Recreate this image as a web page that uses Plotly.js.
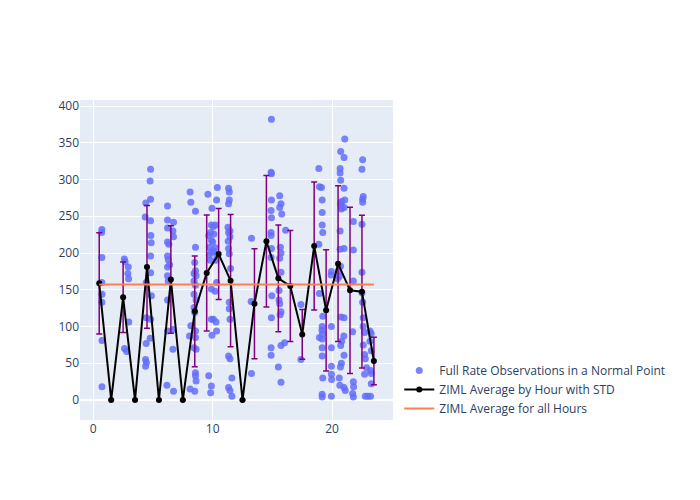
<!DOCTYPE html>
<html>
<head>
<meta charset="utf-8">
<script src="https://cdn.plot.ly/plotly-3.0.1.min.js"></script>
<style>html,body{margin:0;padding:0;background:#fff;}#chart{width:700px;height:500px;}</style>
</head>
<body>
<div id="chart"></div>
<script>
// Individual observations (hour of day, value)
const obsX = [
  0.72,0.70,0.72,0.72,0.73,0.72,0.73,0.73,
  2.60,2.67,2.93,2.90,2.96,2.97,2.62,2.80,
  4.80,4.76,4.80,4.40,4.35,4.80,4.82,4.85,4.80,4.80,4.43,4.87,4.45,4.80,4.76,4.43,4.38,4.45,4.38,
  6.22,6.22,6.72,6.22,6.67,6.72,6.22,6.33,6.22,6.28,6.39,6.22,6.22,6.28,6.22,6.67,6.22,6.67,6.17,6.72,
  8.11,8.17,8.56,8.56,8.50,8.56,8.44,8.61,8.44,8.56,8.44,8.61,8.44,8.50,8.17,8.56,8.06,8.56,8.44,8.61,8.56,8.56,8.61,8.11,8.50,
  9.60,9.94,9.89,9.83,9.67,9.90,9.72,9.89,9.72,9.80,9.89,9.89,9.94,9.67,9.89,9.83,
  10.39,10.33,10.22,10.06,10.10,10.00,10.20,10.05,10.33,10.28,10.33,10.20,10.06,10.28,10.33,
  11.33,11.39,11.39,11.33,11.28,11.45,11.33,11.45,11.30,11.33,11.39,11.50,11.39,11.39,11.45,11.33,11.45,11.61,11.33,11.45,11.61,
  13.25,13.22,13.25,
  14.92,14.89,14.92,14.92,14.89,14.92,14.89,14.89,14.92,14.89,14.95,14.92,14.89,14.89,
  15.61,15.72,15.61,15.78,15.67,15.72,15.61,15.72,15.56,15.56,15.61,15.72,15.65,15.72,15.50,15.72,
  16.11,16.02,
  17.39,17.39,
  18.89,18.94,18.89,18.94,18.94,
  19.11,19.17,19.17,19.17,19.22,19.22,19.17,19.15,19.20,19.17,19.17,19.17,19.22,19.17,19.17,19.94,19.92,19.94,19.94,19.94,19.94,19.96,19.94,
  20.72,20.67,20.67,20.72,20.80,20.72,20.75,20.83,20.78,20.67,20.67,20.70,20.55,20.60,20.45,20.75,20.80,20.72,20.78,20.70,20.60,20.65,
  21.06,21.00,21.00,21.06,21.00,21.00,21.00,20.98,21.00,21.00,21.10,21.78,21.78,21.78,21.72,21.78,21.80,21.72,21.78,
  22.56,22.50,22.61,22.56,22.56,22.50,22.50,22.50,22.56,22.61,22.60,22.72,22.61,22.72,22.78,22.89,22.72,22.78,22.99,
  23.17,23.28,23.17,23.28,23.22,23.28,23.28,23.22
];
const obsY = [
  232,228,194,160,144,133,81,18,
  192,188,181,172,165,106,70,66,
  314,298,273,268,249,244,224,214,196,173,160,142,112,110,84,77,55,51,46,
  264,245,242,234,230,222,215,212,196,191,184,181,169,162,136,96,94,69,20,12,
  283,269,257,208,187,176,172,169,162,156,144,136,126,119,101,94,87,85,71,69,37,33,26,15,12,
  280,261,238,228,224,217,208,201,197,190,151,110,88,33,19,10,
  289,272,238,236,226,215,207,203,198,190,160,148,110,106,94,
  288,283,272,267,235,230,228,222,216,206,199,179,133,124,110,60,56,30,17,13,5,
  220,134,36,
  382,310,308,272,258,248,228,224,206,194,142,112,71,61,
  278,267,262,253,208,200,193,174,149,136,131,120,116,74,45,24,
  231,78,
  130,55,
  315,290,212,145,85,
  289,272,255,238,228,114,100,95,90,83,71,60,30,8,4,175,170,100,71,46,35,28,5,
  338,315,309,299,270,268,265,262,260,230,205,182,175,168,165,113,80,74,50,45,30,20,
  355,330,288,272,262,206,112,87,61,17,13,243,204,162,93,25,18,9,4,
  327,314,277,273,269,239,174,146,133,112,100,92,75,62,56,44,35,5,5,
  94,90,80,67,40,36,22,5
];
// Hourly averages and standard deviations
const hours = [0.5,1.5,2.5,3.5,4.5,5.5,6.5,7.5,8.5,9.5,10.5,11.5,12.5,13.5,14.5,15.5,16.5,17.5,18.5,19.5,20.5,21.5,22.5,23.5];
const hourAvg = [158.7,0,139.7,0,181,0,164,0,120.6,172.8,198.6,162.4,0,131,215.9,165.5,155,89.3,209.5,122,185.5,149.2,147.4,53];
const hourStd = [69,0,48,0,83.5,0,73,0,75.5,79,62,90,0,74.8,89.5,72.7,75.5,34,87,82.5,106,113,104,32.4];
const overallAvg = 157;
const overallX = [0.5, 23.5];
const overallY = [overallAvg, overallAvg];

const traces = [
  {
    x: obsX, y: obsY, type: 'scatter', mode: 'markers',
    name: 'Full Rate Observations in a Normal Point',
    marker: {color: '#636efa', size: 7, opacity: 0.85}
  },
  {
    x: hours, y: hourAvg, type: 'scatter', mode: 'lines+markers',
    name: 'ZIML Average by Hour with STD',
    line: {color: 'black', width: 2},
    marker: {color: 'black', size: 6},
    error_y: {type: 'data', array: hourStd, visible: true, color: 'purple', thickness: 1.5, width: 3}
  },
  {
    x: overallX, y: overallY, type: 'scatter', mode: 'lines',
    name: 'ZIML Average for all Hours',
    line: {color: 'coral', width: 2}
  }
];

const layout = {
  width: 700, height: 500,
  margin: {l: 80, r: 307, t: 100, b: 80},
  paper_bgcolor: 'white',
  plot_bgcolor: '#e5ecf6',
  font: {family: '"Open Sans", verdana, arial, sans-serif', size: 12, color: '#2a3f5f'},
  xaxis: {range: [-1.11, 25.1], gridcolor: 'white', zeroline: false, tickvals: [0,10,20], ticks: ''},
  yaxis: {range: [-27.2, 408.2], gridcolor: 'white', zeroline: true, zerolinecolor: 'white', zerolinewidth: 2, dtick: 50, ticks: ''},
  legend: {x: 1.02, y: 0.2, xanchor: 'left', yanchor: 'top', bgcolor: 'rgba(0,0,0,0)'},
  showlegend: true
};

Plotly.newPlot('chart', traces, layout, {displayModeBar: false, staticPlot: true});
</script>
</body>
</html>
